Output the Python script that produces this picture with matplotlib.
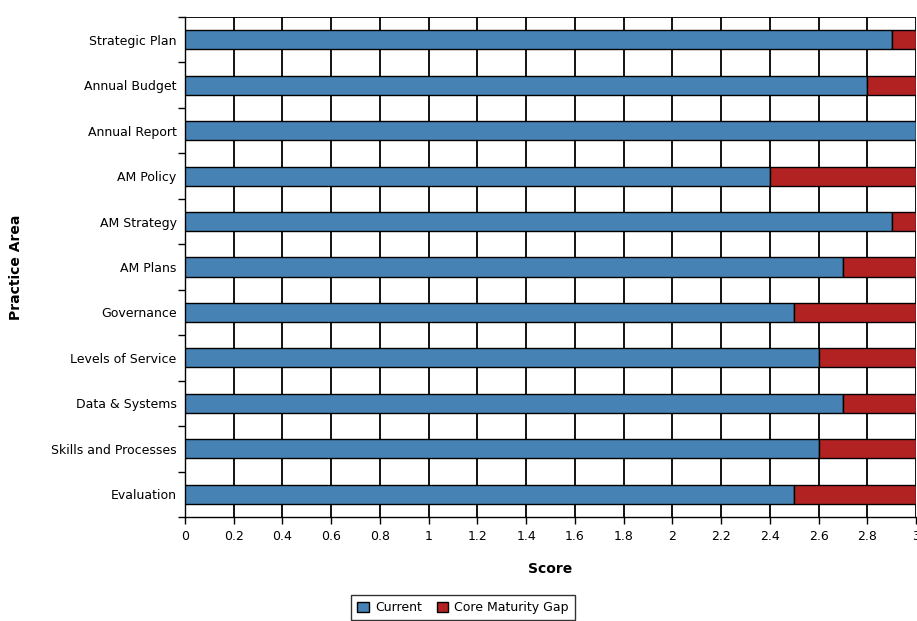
import matplotlib
matplotlib.use("Agg")
import matplotlib.pyplot as plt
import numpy as np
from matplotlib.ticker import FixedLocator

areas = ["Strategic Plan", "Annual Budget", "Annual Report", "AM Policy",
         "AM Strategy", "AM Plans", "Governance", "Levels of Service",
         "Data & Systems", "Skills and Processes", "Evaluation"]
current = [2.9, 2.8, 3.0, 2.4, 2.9, 2.7, 2.5, 2.6, 2.7, 2.6, 2.5]
target = 3.0
gap = [target - c for c in current]
score_ticks = np.round(np.arange(0, 3.01, 0.2), 1)

plt.rcParams['font.family'] = ['DejaVu Sans']

fig = plt.figure(figsize=(9.17, 6.21), dpi=100)
ax = fig.add_axes([185 / 917, 1 - 517 / 621, 731 / 917, 500 / 621])

y = np.arange(len(areas))
ax.barh(y, current, height=0.42, color='#4682B4', edgecolor='black',
        linewidth=1, label='Current', zorder=3)
ax.barh(y, gap, left=current, height=0.42, color='#B22222', edgecolor='black',
        linewidth=1, label='Core Maturity Gap', zorder=3)

ax.set_xlim(0, 3)
ax.set_ylim(len(areas) - 0.5, -0.5)
ax.set_xticks(score_ticks)
ax.set_xticklabels([f"{v:g}" for v in score_ticks])

ax.set_yticks(y)
ax.set_yticklabels(areas)
ax.yaxis.set_minor_locator(FixedLocator(np.arange(-0.5, len(areas), 1)))
ax.tick_params(axis='y', which='major', length=0, pad=6, labelsize=9)
ax.tick_params(axis='y', which='minor', length=5, width=1)
ax.tick_params(axis='x', which='major', length=5, width=1, labelsize=9, pad=4)

# vertical grid only, bars sit on top
ax.grid(axis='x', color='black', linewidth=1.3, zorder=0)
ax.set_axisbelow(True)
for side in ['top', 'right']:
    ax.spines[side].set_visible(False)
ax.spines['left'].set_linewidth(1)
ax.spines['bottom'].set_linewidth(1)
ax.axhline(-0.5, color='black', linewidth=1.3, zorder=1)

ax.set_xlabel("Score", fontweight='bold', fontsize=10, labelpad=14)
ax.set_ylabel("Practice Area", fontweight='bold', fontsize=10, labelpad=20)

fig.legend(loc='upper center', bbox_to_anchor=(0.505, 1 - 591 / 621),
           ncol=2, frameon=True, fancybox=False, edgecolor='black',
           fontsize=9, handlelength=0.9, handleheight=0.9, handletextpad=0.5,
           columnspacing=1.2, borderpad=0.5, borderaxespad=0.3)

fig.savefig("out.png", dpi=100)
